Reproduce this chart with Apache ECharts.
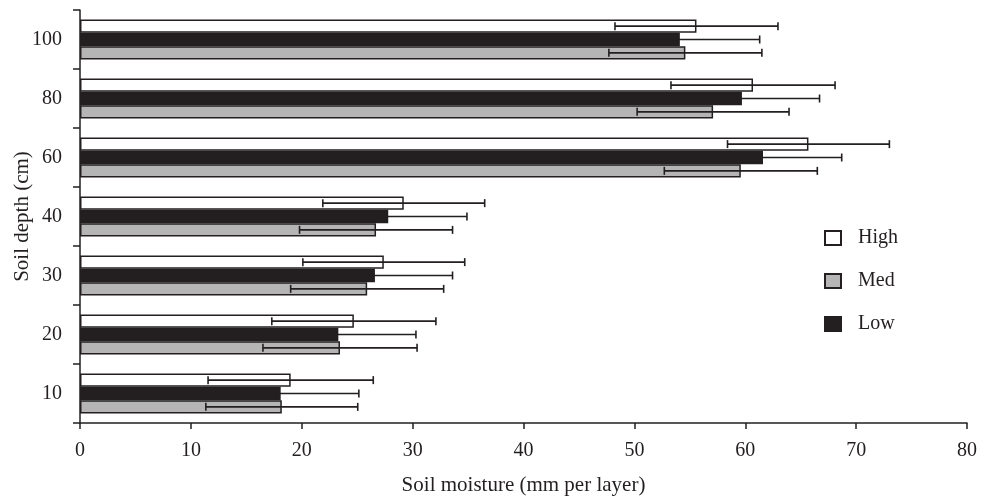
<!DOCTYPE html>
<html>
<head>
<meta charset="utf-8">
<script src="https://cdn.jsdelivr.net/npm/echarts@6/dist/echarts.min.js"></script>
<style>
html,body{margin:0;padding:0;background:#fff;}
#main{width:982px;height:500px;}
</style>
</head>
<body>
<div id="main"></div>
<script>
// Data
var categories = ['10', '20', '30', '40', '60', '80', '100'];
var highVals = [19.0, 24.7, 27.4, 29.2, 65.7, 60.7, 55.6];
var highErr  = [7.45, 7.4, 7.3, 7.3, 7.3, 7.4, 7.35];
var lowVals  = [18.1, 23.3, 26.6, 27.8, 61.6, 59.7, 54.1];
var lowErr   = [7.05, 7.0, 7.0, 7.1, 7.1, 7.0, 7.2];
var medVals  = [18.2, 23.45, 25.9, 26.7, 59.6, 57.1, 54.6];
var medErr   = [6.85, 6.95, 6.9, 6.9, 6.9, 6.85, 6.9];
var xTicks = [0, 10, 20, 30, 40, 50, 60, 70, 80];

var INK = '#231f20';
var FONT = '"Liberation Serif", "Times New Roman", serif';
var CAT_GAP = 0.32;

function errData(vals, errs) {
  return vals.map(function (v, i) { return [i, v - errs[i], v + errs[i]]; });
}

// slot: position of the bar within the band, from top (0) to bottom (2)
function errSeries(name, vals, errs, slot) {
  return {
    type: 'custom',
    name: name + ' err',
    z: 10,
    silent: true,
    encode: { x: [1, 2], y: 0 },
    data: errData(vals, errs),
    renderItem: function (params, api) {
      var ci = api.value(0);
      var pLo = api.coord([api.value(1), ci]);
      var pHi = api.coord([api.value(2), ci]);
      var bandH = api.size([0, 1])[1];
      var barW = bandH * (1 - CAT_GAP) / 3;
      var y = pLo[1] + (slot - 1) * barW;
      var cap = 4;
      var st = { stroke: INK, lineWidth: 1.6 };
      return {
        type: 'group',
        children: [
          { type: 'line', shape: { x1: pLo[0], y1: y, x2: pHi[0], y2: y }, style: st },
          { type: 'line', shape: { x1: pLo[0], y1: y - cap, x2: pLo[0], y2: y + cap }, style: st },
          { type: 'line', shape: { x1: pHi[0], y1: y - cap, x2: pHi[0], y2: y + cap }, style: st }
        ]
      };
    }
  };
}

var chart = echarts.init(document.getElementById('main'), null, { renderer: 'canvas' });
var option = {
  backgroundColor: '#ffffff',
  animation: false,
  textStyle: { fontFamily: FONT, color: INK },
  grid: { left: 80, right: 15, top: 10, bottom: 77, containLabel: false, outerBoundsMode: 'none' },
  legend: {
    orient: 'vertical',
    left: 819,
    top: 223,
    itemWidth: 16,
    itemHeight: 14,
    itemGap: 23,
    icon: 'rect',
    data: ['High', 'Med', 'Low'],
    textStyle: { fontFamily: FONT, fontSize: 20, color: INK, padding: [0, 0, 0, 12] }
  },
  xAxis: {
    type: 'value',
    min: 0,
    max: 80,
    interval: 10,
    name: 'Soil moisture (mm per layer)',
    nameLocation: 'middle',
    nameGap: 52,
    nameMoveOverlap: false,
    nameTextStyle: { fontFamily: FONT, fontSize: 21, color: INK },
    axisLine: { show: true, lineStyle: { color: INK, width: 1.5 } },
    axisTick: { show: true, length: 6, lineStyle: { color: INK, width: 1.5 } },
    axisLabel: { fontFamily: FONT, fontSize: 20, color: INK, margin: 18 },
    splitLine: { show: false }
  },
  yAxis: {
    type: 'category',
    data: categories,
    name: 'Soil depth (cm)',
    nameLocation: 'middle',
    nameGap: 47,
    nameMoveOverlap: false,
    nameRotate: 90,
    nameTextStyle: { fontFamily: FONT, fontSize: 21, color: INK },
    axisLine: { show: true, lineStyle: { color: INK, width: 1.5 } },
    axisTick: { show: true, length: 7, alignWithLabel: false, lineStyle: { color: INK, width: 1.5 } },
    axisLabel: { fontFamily: FONT, fontSize: 20, color: INK, margin: 18 },
    splitLine: { show: false }
  },
  series: [
    {
      name: 'High', type: 'bar', data: highVals,
      barGap: '0%', barCategoryGap: '32%',
      itemStyle: { color: '#ffffff', borderColor: INK, borderWidth: 1.5 }
    },
    {
      name: 'Low', type: 'bar', data: lowVals,
      barGap: '0%', barCategoryGap: '32%',
      itemStyle: { color: INK, borderColor: INK, borderWidth: 1.5 }
    },
    {
      name: 'Med', type: 'bar', data: medVals,
      barGap: '0%', barCategoryGap: '32%',
      itemStyle: { color: '#b5b5b5', borderColor: INK, borderWidth: 1.5 }
    },
    errSeries('High', highVals, highErr, 0),
    errSeries('Low', lowVals, lowErr, 1),
    errSeries('Med', medVals, medErr, 2)
  ]
};
chart.setOption(option);
</script>
</body>
</html>
